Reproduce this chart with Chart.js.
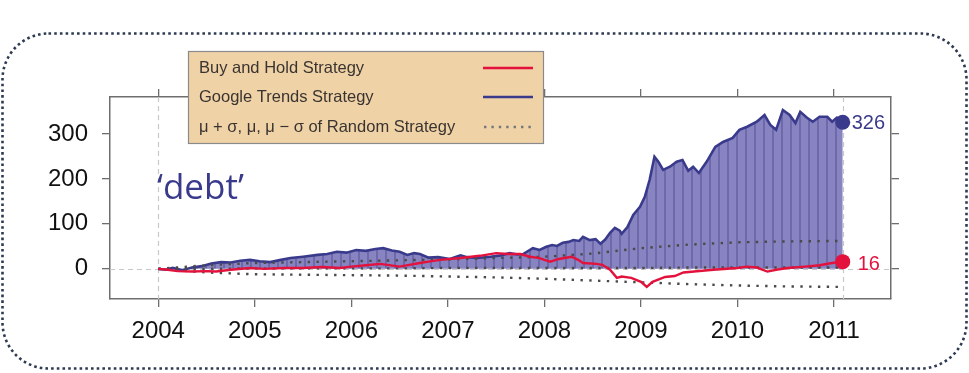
<!DOCTYPE html>
<html>
<head>
<meta charset="utf-8">
<script src="https://cdn.jsdelivr.net/npm/chart.js@4/dist/chart.umd.min.js"></script>
<style>
  html, body { margin: 0; padding: 0; background: #fff; }
  #wrap { width: 969px; height: 373px; }
</style>
</head>
<body>
<div id="wrap"><canvas id="debtChart" width="969" height="373"></canvas></div>
<script>
// ── Data ──────────────────────────────────────────────────────────
const yearTicks = [2004, 2005, 2006, 2007, 2008, 2009, 2010, 2011];
const valueTicks = [0, 100, 200, 300];

const trendYears = [
  2004.00, 2004.08, 2004.15, 2004.25, 2004.35, 2004.45, 2004.55, 2004.65, 2004.75, 2004.85,
  2004.95, 2005.05, 2005.16, 2005.27, 2005.37, 2005.50, 2005.65, 2005.75, 2005.85, 2005.95,
  2006.05, 2006.15, 2006.25, 2006.33, 2006.42, 2006.50, 2006.58, 2006.65, 2006.71, 2006.80,
  2006.90, 2007.02, 2007.13, 2007.20, 2007.30, 2007.44, 2007.55, 2007.64, 2007.72, 2007.78,
  2007.88, 2007.95, 2008.02, 2008.08, 2008.13, 2008.19, 2008.25, 2008.30, 2008.36, 2008.40,
  2008.47, 2008.53, 2008.58, 2008.63, 2008.68, 2008.73, 2008.78, 2008.80, 2008.86, 2008.92,
  2008.99, 2009.04, 2009.09, 2009.14, 2009.18, 2009.23, 2009.30, 2009.37, 2009.43, 2009.49,
  2009.54, 2009.60, 2009.68, 2009.77, 2009.85, 2009.95, 2010.02, 2010.10, 2010.20, 2010.28,
  2010.34, 2010.40, 2010.47, 2010.54, 2010.60, 2010.65, 2010.72, 2010.78, 2010.85, 2010.93,
  2010.98, 2011.03, 2011.09
];
const trendValues = [
  0, -2, 2, -3, 3, 6, 12, 15, 14, 18,
  20, 17, 15, 20, 24, 27, 31, 33, 38, 36,
  42, 40, 44, 46, 41, 38, 31, 35, 33, 25,
  26, 22, 30, 26, 24, 27, 30, 35, 32, 33,
  46, 42, 49, 53, 51, 58, 60, 64, 62, 71,
  64, 66, 56, 65, 80, 91, 85, 78, 93, 120,
  138, 160, 198, 249, 238, 220, 227, 238, 242, 218,
  227, 213, 238, 271, 282, 291, 309, 316, 327, 342,
  320, 309, 353, 342, 324, 349, 336, 327, 338, 338,
  327, 336, 326
];

const holdYears = [
  2004.00, 2004.10, 2004.20, 2004.35, 2004.50, 2004.60, 2004.75, 2004.95, 2005.10, 2005.30,
  2005.50, 2005.70, 2005.88, 2006.00, 2006.15, 2006.30, 2006.50, 2006.60, 2006.71, 2006.80,
  2006.92, 2007.13, 2007.33, 2007.50, 2007.62, 2007.75, 2007.85, 2007.95, 2008.00, 2008.06,
  2008.15, 2008.28, 2008.35, 2008.40, 2008.54, 2008.60, 2008.68, 2008.75, 2008.80, 2008.90,
  2009.00, 2009.06, 2009.12, 2009.25, 2009.35, 2009.44, 2009.55, 2009.75, 2010.00, 2010.10,
  2010.20, 2010.31, 2010.40, 2010.52, 2010.70, 2010.85, 2010.98, 2011.09
];
const holdValues = [
  0, -2, -5, -6, -5, -6, -2, 2, 0, 2,
  2, 4, 2, 5, 8, 11, 5, 9, 13, 16,
  20, 24, 29, 35, 33, 33, 27, 24, 20, 16,
  22, 27, 20, 13, 11, 9, -2, -20, -17, -20,
  -29, -40, -29, -18, -16, -8, -6, -2, 2, 5,
  3, -6, -2, 2, 5, 8, 13, 16
];

const randomYears = [2004, 2004.5, 2005, 2005.5, 2006, 2006.5, 2007, 2007.5, 2008, 2008.5, 2009, 2009.5, 2010, 2010.5, 2011, 2011.09];
const randomUpper = [0, 8, 13, 15, 17, 19, 21, 24, 27, 34, 46, 54, 59, 61, 62, 62];
const randomMean  = [0, 0, 1, 1, 1, 1, 2, 2, 2, 2, 2, 3, 3, 3, 3, 3];
const randomLower = [0, -8, -12, -13, -14, -15, -17, -19, -22, -26, -30, -34, -37, -39, -40, -40];

const legendLabels = ['Buy and Hold Strategy', 'Google Trends Strategy', 'μ + σ, μ, μ − σ of Random Strategy'];
const keywordLabel = '‘debt’';

// ── Styling ───────────────────────────────────────────────────────
const BLUE = '#3a3a8c';
const RED = '#e3123d';
const DOT = '#4a4a4a';
const AXIS = '#6e6e6e';
const FONT = '"Liberation Sans", Arial, sans-serif';

function stripePattern() {
  const c = document.createElement('canvas');
  c.width = 9; c.height = 4;
  const g = c.getContext('2d');
  g.fillStyle = '#8884c1';
  g.fillRect(0, 0, 9, 4);
  g.fillStyle = '#6d69aa';
  g.fillRect(7, 0, 2, 4);
  return g.createPattern(c, 'repeat');
}

const toPoints = (xs, ys) => xs.map((x, i) => ({ x, y: ys[i] }));
const lastDot = r => ctx => ctx.dataIndex === ctx.dataset.data.length - 1 ? r : 0;

const decorations = {
  id: 'decorations',
  beforeDraw(chart) {
    const ctx = chart.ctx;
    ctx.save();
    ctx.fillStyle = '#fff';
    ctx.fillRect(0, 0, chart.width, chart.height);
    // dotted rounded frame
    ctx.strokeStyle = '#2d3a52';
    ctx.lineWidth = 2.6;
    ctx.setLineDash([2.6, 3.1]);
    ctx.beginPath();
    ctx.roundRect(2.5, 33.5, 964, 335, 46);
    ctx.stroke();
    ctx.restore();
  },
  beforeDatasetsDraw(chart) {
    const { ctx, chartArea: a, scales: { x, y } } = chart;
    ctx.save();
    ctx.strokeStyle = '#c8c8c8';
    ctx.lineWidth = 1.2;
    ctx.setLineDash([5, 4]);
    const y0 = Math.round(y.getPixelForValue(0)) + 0.5;
    ctx.beginPath(); ctx.moveTo(a.left, y0); ctx.lineTo(a.right, y0); ctx.stroke();
    [trendYears[0], trendYears[trendYears.length - 1]].forEach(v => {
      const px = Math.round(x.getPixelForValue(v)) + 0.5;
      ctx.beginPath(); ctx.moveTo(px, a.top); ctx.lineTo(px, a.bottom); ctx.stroke();
    });
    ctx.restore();
  },
  afterDatasetsDraw(chart) {
    const { ctx, scales: { x, y } } = chart;
    ctx.save();
    ctx.textBaseline = 'middle';
    ctx.font = '20px ' + FONT;
    const tv = trendValues[trendValues.length - 1];
    const hv = holdValues[holdValues.length - 1];
    ctx.fillStyle = BLUE;
    ctx.fillText(String(tv), x.getPixelForValue(trendYears[trendYears.length - 1]) + 9, y.getPixelForValue(tv) + 1);
    ctx.fillStyle = RED;
    ctx.fillText(String(hv), x.getPixelForValue(holdYears[holdYears.length - 1]) + 15, y.getPixelForValue(hv) + 3);
    // keyword
    ctx.textBaseline = 'alphabetic';
    ctx.font = '35px "Open Sans", sans-serif';
    ctx.fillStyle = BLUE;
    ctx.fillText(keywordLabel, 157, 199);
    ctx.restore();
  },
  afterDraw(chart) {
    const ctx = chart.ctx;
    ctx.save();
    ctx.fillStyle = '#f0d2a7';
    ctx.fillRect(188, 51, 355, 92);
    ctx.strokeStyle = '#8a8a8a';
    ctx.lineWidth = 1.2;
    ctx.strokeRect(188.5, 51.5, 355, 92);
    ctx.font = '16.5px ' + FONT;
    ctx.textBaseline = 'middle';
    ctx.fillStyle = '#3a3431';
    const rows = [68, 97, 127];
    legendLabels.forEach((t, i) => ctx.fillText(t, 199, rows[i]));
    ctx.lineWidth = 2.4;
    ctx.strokeStyle = RED;
    ctx.beginPath(); ctx.moveTo(483, rows[0]); ctx.lineTo(533, rows[0]); ctx.stroke();
    ctx.strokeStyle = BLUE;
    ctx.beginPath(); ctx.moveTo(483, rows[1]); ctx.lineTo(533, rows[1]); ctx.stroke();
    ctx.strokeStyle = '#777';
    ctx.setLineDash([2.4, 5]);
    ctx.beginPath(); ctx.moveTo(484, rows[2]); ctx.lineTo(533, rows[2]); ctx.stroke();
    ctx.restore();
  }
};

// ── Chart ─────────────────────────────────────────────────────────
const axisBase = {
  grid: { drawOnChartArea: false, drawTicks: true, tickLength: 8, color: AXIS, lineWidth: 1.3 },
  border: { display: true, color: AXIS, width: 1.5 }
};
const X_MIN = 2003.5, X_MAX = 2011.59, Y_MIN = -67, Y_MAX = 382;

const dottedLine = (label, ys) => ({
  label, data: toPoints(randomYears, ys),
  borderColor: DOT, borderWidth: 2.4, borderDash: [2.4, 6.4],
  pointRadius: 0, fill: false, order: 2
});

new Chart(document.getElementById('debtChart'), {
  type: 'line',
  data: {
    datasets: [
      {
        label: 'Buy and Hold Strategy', data: toPoints(holdYears, holdValues),
        borderColor: RED, borderWidth: 2.4, backgroundColor: RED,
        pointRadius: lastDot(7.5), pointBorderWidth: 0, fill: false, order: 1
      },
      dottedLine('μ + σ', randomUpper),
      dottedLine('μ', randomMean),
      dottedLine('μ − σ', randomLower),
      {
        label: 'Google Trends Strategy', data: toPoints(trendYears, trendValues),
        borderColor: BLUE, borderWidth: 2.6, backgroundColor: stripePattern(),
        pointBackgroundColor: BLUE, pointRadius: lastDot(7.5), pointBorderWidth: 0,
        fill: 'origin', order: 3
      }
    ]
  },
  options: {
    responsive: false,
    animation: false,
    layout: { padding: 0 },
    plugins: { legend: { display: false }, tooltip: { enabled: false } },
    scales: {
      x: {
        ...axisBase, type: 'linear', position: 'bottom', min: X_MIN, max: X_MAX,
        afterBuildTicks: s => { s.ticks = yearTicks.map(v => ({ value: v })); },
        afterFit: s => { s.height = 74; },
        ticks: { autoSkip: false, maxRotation: 0, padding: 10, color: '#111',
                 font: { family: FONT, size: 24 }, callback: v => String(v) }
      },
      xTop: {
        ...axisBase, type: 'linear', position: 'top', min: X_MIN, max: X_MAX,
        afterBuildTicks: s => { s.ticks = yearTicks.map(v => ({ value: v })); },
        afterFit: s => { s.height = 97; },
        ticks: { display: false }
      },
      y: {
        ...axisBase, type: 'linear', position: 'left', min: Y_MIN, max: Y_MAX,
        afterBuildTicks: s => { s.ticks = valueTicks.map(v => ({ value: v })); },
        afterFit: s => { s.width = 110; },
        ticks: { padding: 14, color: '#111', font: { family: FONT, size: 24 }, callback: v => String(v) }
      },
      yRight: {
        ...axisBase, type: 'linear', position: 'right', min: Y_MIN, max: Y_MAX,
        afterBuildTicks: s => { s.ticks = valueTicks.map(v => ({ value: v })); },
        afterFit: s => { s.width = 78; },
        ticks: { display: false }
      }
    }
  },
  plugins: [decorations]
});
</script>
</body>
</html>
